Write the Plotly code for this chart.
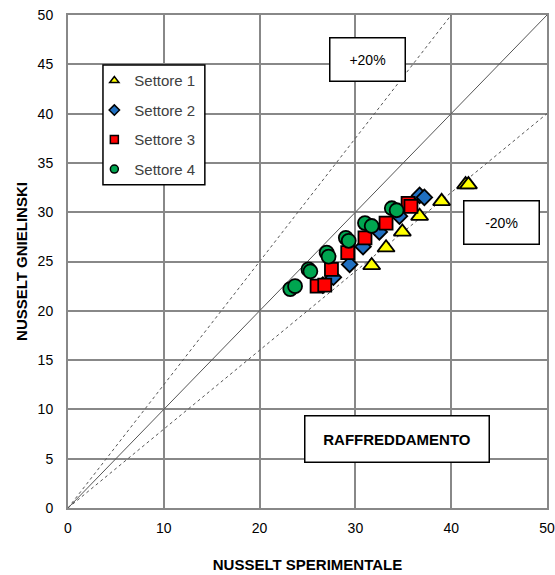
import plotly.graph_objects as go

# Settore 1 .. 4: experimental Nusselt vs. Gnielinski correlation
s1_x = [31.7, 33.2, 34.9, 36.7, 39.0, 41.5, 41.8]
s1_y = [24.6, 26.4, 28.0, 29.6, 31.1, 32.8, 32.8]

s2_x = [26.6, 27.7, 29.4, 30.8, 32.5, 34.6, 36.7, 37.2]
s2_y = [22.6, 23.4, 24.7, 26.5, 28.0, 29.6, 31.7, 31.5]

s3_x = [26.0, 26.8, 27.5, 29.2, 31.0, 33.2, 35.5, 35.8]
s3_y = [22.5, 22.6, 24.2, 25.9, 27.4, 28.9, 30.9, 30.6]

s4_x = [23.2, 23.7, 25.1, 25.3, 27.0, 27.2, 29.0, 29.3, 31.0, 31.7, 33.8, 34.3]
s4_y = [22.2, 22.5, 24.2, 24.0, 25.9, 25.5, 27.4, 27.1, 28.9, 28.6, 30.4, 30.2]

# reference lines: y = k * x
bisector_k = 1.0
upper_k = 1.25   # +20 %
lower_k = 0.8    # -20 %
line_x = [0, 50]

FONT = "Liberation Sans, Arial, sans-serif"

fig = go.Figure()

# reference lines
fig.add_trace(go.Scatter(x=line_x, y=[v * bisector_k for v in line_x], mode="lines",
                         line=dict(color="#555555", width=1), showlegend=False, hoverinfo="skip"))
fig.add_trace(go.Scatter(x=[0, 50 / upper_k], y=[0, 50], mode="lines",
                         line=dict(color="#555555", width=1, dash="dot"), showlegend=False, hoverinfo="skip"))
fig.add_trace(go.Scatter(x=line_x, y=[v * lower_k for v in line_x], mode="lines",
                         line=dict(color="#555555", width=1, dash="dot"), showlegend=False, hoverinfo="skip"))

series = [
    ("Settore 1", s1_x, s1_y, "triangle-up", "#FFFF00", 15, 8),
    ("Settore 2", s2_x, s2_y, "diamond", "#1F6FC0", 12, 8),
    ("Settore 3", s3_x, s3_y, "square", "#FF0000", 13, 8),
    ("Settore 4", s4_x, s4_y, "circle", "#00A550", 14, 8),
]

for name, xs, ys, sym, col, sz, lsz in series:
    fig.add_trace(go.Scatter(
        x=xs, y=ys, mode="markers", name=name, showlegend=False,
        marker=dict(symbol=sym, color=col, size=sz, line=dict(color="black", width=1.8)),
    ))

# legend entries with small markers
for name, xs, ys, sym, col, sz, lsz in series:
    fig.add_trace(go.Scatter(
        x=[None], y=[None], mode="markers", name=name, legendgroup=name,
        marker=dict(symbol=sym, color=col, size=lsz, line=dict(color="black", width=1.5)),
    ))

box_common = dict(bgcolor="white", bordercolor="black", borderwidth=1.5,
                  showarrow=False, xref="paper", yref="paper")

fig.update_layout(
    width=555, height=575,
    margin=dict(l=68, r=7.5, t=15, b=66.5),
    paper_bgcolor="white", plot_bgcolor="white",
    font=dict(family=FONT, size=14, color="black"),
    showlegend=True,
    legend=dict(
        x=0.055, y=0.9, xanchor="left", yanchor="top",
        bgcolor="rgba(0,0,0,0)", borderwidth=0,
        font=dict(family=FONT, size=15, color="#404040"),
        traceorder="grouped", tracegroupgap=7, itemwidth=30,
    ),
    # legend frame
    shapes=[dict(type="rect", xref="paper", yref="paper",
                 x0=0.073, x1=0.2857, y0=0.6555, y1=0.8987,
                 fillcolor="white", line=dict(color="black", width=1.5), layer="above")],
    xaxis=dict(
        range=[0, 50], dtick=10, showgrid=True, gridcolor="#888888", gridwidth=2,
        showline=True, linecolor="#888888", linewidth=2, mirror=True,
        zeroline=False, ticks="", tickfont=dict(size=14), automargin=False,
        ticklabelstandoff=6,
        title=dict(text="<b>NUSSELT SPERIMENTALE</b>", font=dict(size=15), standoff=25),
    ),
    yaxis=dict(
        range=[0, 50], dtick=5, showgrid=True, gridcolor="#888888", gridwidth=2,
        showline=True, linecolor="#888888", linewidth=2, mirror=True,
        zeroline=False, ticks="", tickfont=dict(size=14), automargin=False,
        ticklabelstandoff=10,
        title=dict(text="<b>NUSSELT GNIELINSKI</b>", font=dict(size=15), standoff=6),
    ),
    annotations=[
        dict(text="+20%", x=0.626, y=0.91, xanchor="center", yanchor="middle",
             width=72, height=40, font=dict(size=14), **box_common),
        dict(text="-20%", x=0.905, y=0.5795, xanchor="center", yanchor="middle",
             width=72, height=40, font=dict(size=14), **box_common),
        dict(text="<b>RAFFREDDAMENTO</b>", x=0.686, y=0.1408, xanchor="center", yanchor="middle",
             width=181, height=43, font=dict(size=15), **box_common),
    ],
)

fig.write_html("out.html")
